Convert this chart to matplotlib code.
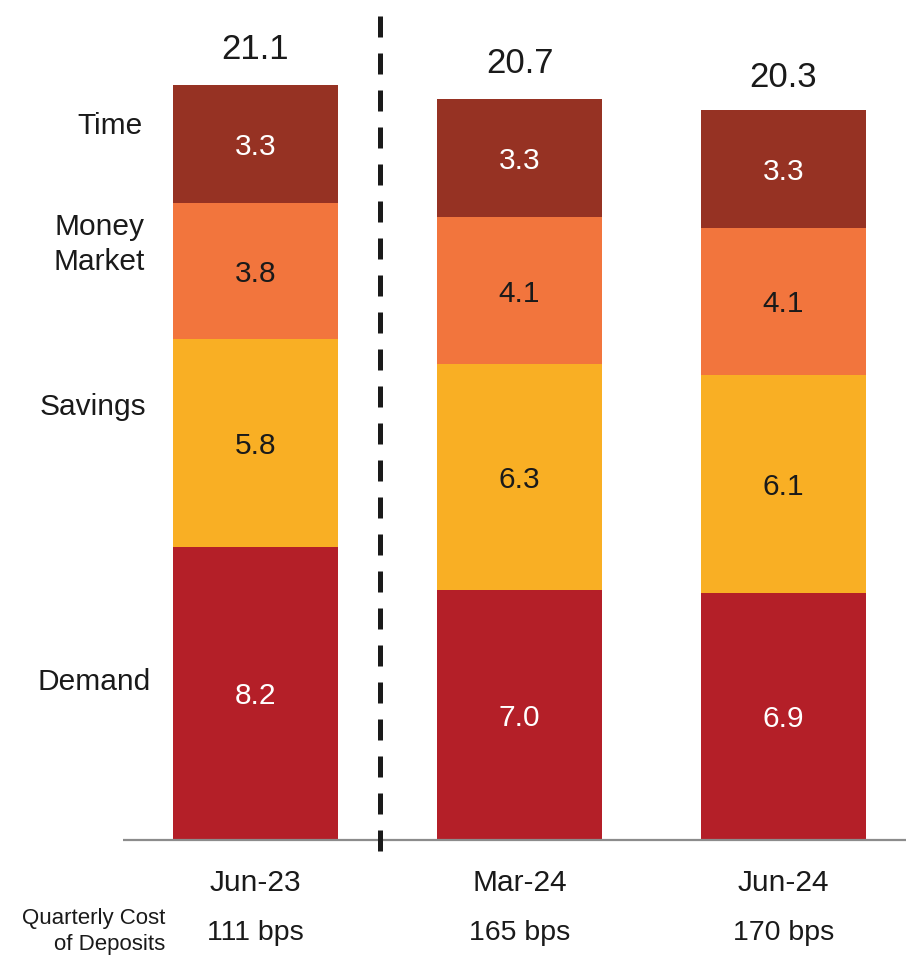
import matplotlib.pyplot as plt

plt.rcParams["font.family"] = ["Liberation Sans", "DejaVu Sans"]

periods = ["Jun-23", "Mar-24", "Jun-24"]
costs = ["111 bps", "165 bps", "170 bps"]
demand = [8.2, 7.0, 6.9]
savings = [5.8, 6.3, 6.1]
money_market = [3.8, 4.1, 4.1]
time_dep = [3.3, 3.3, 3.3]
totals = [21.1, 20.7, 20.3]

layers = [
    ("Demand", demand, "#b41f28", "white"),
    ("Savings", savings, "#f9af24", "#1a1a1a"),
    ("Money\nMarket", money_market, "#f2753d", "#1a1a1a"),
    ("Time", time_dep, "#963223", "white"),
]

dark = "#1a1a1a"
fig = plt.figure(figsize=(9.06, 9.55), dpi=100)
ax = fig.add_axes([0, 0, 1, 1])
ax.set_xlim(-0.968, 2.464)
ax.set_ylim(-3.214, 23.476)
ax.set_axis_off()

x = list(range(len(periods)))
bottom = [0.0] * len(periods)
for name, vals, color, tcolor in layers:
    ax.bar(x, vals, width=0.625, bottom=bottom, color=color, zorder=2)
    for i, v in enumerate(vals):
        ax.text(i, bottom[i] + v / 2 - 0.08, f"{v:.1f}", ha="center", va="center",
                fontsize=21.5, color=tcolor, zorder=3)
    bottom = [b + v for b, v in zip(bottom, vals)]

for i, t in enumerate(totals):
    ax.text(i, t + 1.0, f"{t:.1f}", ha="center", va="center",
            fontsize=25, color=dark)

# series names on the left of the first bar
label_y = {"Time": 19.96, "Money\nMarket": 16.65, "Savings": 12.1, "Demand": 4.42}
label_x = {"Time": -0.428, "Money\nMarket": -0.42, "Savings": -0.415, "Demand": -0.398}
for name, *_ in layers:
    ax.text(label_x[name], label_y[name], name, ha="right", va="center",
            fontsize=21.5, color=dark, linespacing=1.3)

# baseline and divider
ax.plot([-0.502, 2.464], [0, 0], color="#8c8c8c", lw=1.6, zorder=4,
        solid_capstyle="butt")
ax.plot([0.4716, 0.4716], [-0.31, 23.476], color=dark, lw=3.6, zorder=4,
        linestyle=(0, (4.2, 3.2)), dash_capstyle="butt")

for i, (p, c) in enumerate(zip(periods, costs)):
    ax.text(i, -1.2, p, ha="center", va="center", fontsize=21.5, color=dark)
    ax.text(i, -2.6, c, ha="center", va="center", fontsize=20.5, color=dark)

ax.text(-0.342, -2.56, "Quarterly Cost\nof Deposits", ha="right", va="center",
        fontsize=16, color=dark, linespacing=1.3)

fig.savefig("out.png", dpi=100)
